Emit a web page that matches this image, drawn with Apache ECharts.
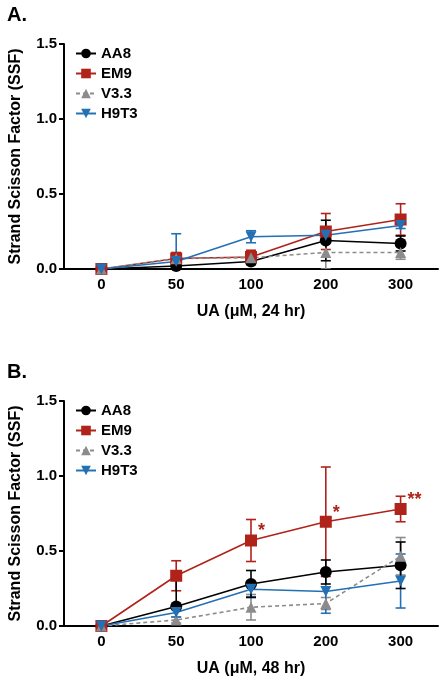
<!DOCTYPE html>
<html><head><meta charset="utf-8">
<script src="https://cdn.jsdelivr.net/npm/echarts@6/dist/echarts.min.js"></script>
<style>html,body{margin:0;padding:0;background:#fff}#c{width:443px;height:681px}</style>
</head><body><div id="c"></div>
<script>
var categories = ['0', '50', '100', '200', '300'];
var seriesNames = ['AA8', 'EM9', 'V3.3', 'H9T3'];
var yTicks = [0, 0.5, 1.0, 1.5];

// Panel A (24 hr)
var aa8A = [0, 0.02, 0.05, 0.19, 0.17];
var aa8AErr = [0, 0.06, 0.02, 0.135, 0.05];
var em9A = [0, 0.07, 0.08, 0.25, 0.33];
var em9AErr = [0, 0.04, 0.045, 0.12, 0.105];
var v33A = [0, 0.07, 0.075, 0.11, 0.11];
var v33AErr = [0, 0.03, 0.03, 0.11, 0.045];
var h9t3A = [0, 0.05, 0.215, 0.225, 0.29];
var h9t3AErr = [0, 0.185, 0.04, 0.02, 0.02];

// Panel B (48 hr)
var aa8B = [0, 0.13, 0.28, 0.36, 0.405];
var aa8BErr = [0, 0.2, 0.09, 0.08, 0.155];
var em9B = [0, 0.335, 0.57, 0.695, 0.78];
var em9BErr = [0, 0.1, 0.14, 0.365, 0.085];
var v33B = [0, 0.04, 0.125, 0.15, 0.465];
var v33BErr = [0, 0.02, 0.085, 0.04, 0.125];
var h9t3B = [0, 0.09, 0.245, 0.23, 0.3];
var h9t3BErr = [0, 0.03, 0.05, 0.145, 0.18];
var starsB = ['', '', '*', '*', '**'];

var colors = {'AA8': '#000000', 'EM9': '#b0231a', 'V3.3': '#8c8c8c', 'H9T3': '#2470b5'};
var symbols = {'AA8': 'circle', 'EM9': 'rect', 'V3.3': 'triangle', 'H9T3': 'triangle'};
var rotates = {'AA8': 0, 'EM9': 0, 'V3.3': 0, 'H9T3': 180};
var sizes = {'AA8': 12, 'EM9': 12, 'V3.3': 11, 'H9T3': 11};

var FONT = 'Liberation Sans, Arial, sans-serif';

function errSeries(name, vals, errs, gi) {
  var data = vals.map(function (v, i) { return [i, v - errs[i], v + errs[i]]; });
  return {
    type: 'custom', name: name + ' err', xAxisIndex: gi, yAxisIndex: gi, clip: true, z: 3,
    data: data, silent: true,
    renderItem: function (params, api) {
      var lo = api.coord([api.value(0), api.value(1)]);
      var hi = api.coord([api.value(0), api.value(2)]);
      var w = 5;
      var st = {stroke: colors[name], lineWidth: 1.6};
      return {type: 'group', children: [
        {type: 'line', shape: {x1: lo[0], y1: lo[1], x2: hi[0], y2: hi[1]}, style: st},
        {type: 'line', shape: {x1: hi[0] - w, y1: hi[1], x2: hi[0] + w, y2: hi[1]}, style: st},
        {type: 'line', shape: {x1: lo[0] - w, y1: lo[1], x2: lo[0] + w, y2: lo[1]}, style: st}
      ]};
    }
  };
}

function lineSeries(name, vals, gi, extra) {
  var s = {
    type: 'line', name: name, xAxisIndex: gi, yAxisIndex: gi, data: vals,
    symbol: symbols[name], symbolSize: sizes[name], symbolRotate: rotates[name],
    showAllSymbol: true, z: 4,
    itemStyle: {color: colors[name]},
    lineStyle: {color: colors[name], width: 1.6, type: name === 'V3.3' ? [4, 3] : 'solid'}
  };
  if (extra) for (var k in extra) s[k] = extra[k];
  return s;
}

function xAxisDef(gi, name) {
  return {
    type: 'category', gridIndex: gi, data: categories, boundaryGap: true,
    axisLine: {lineStyle: {color: '#000', width: 2}},
    axisTick: {show: false},
    axisLabel: {color: '#000', fontFamily: FONT, fontWeight: 'bold', fontSize: 15, margin: 8},
    name: name, nameLocation: 'middle', nameGap: 35,
    nameTextStyle: {color: '#000', fontFamily: FONT, fontWeight: 'bold', fontSize: 16}
  };
}
function yAxisDef(gi) {
  return {
    type: 'value', gridIndex: gi, min: yTicks[0], max: yTicks[yTicks.length - 1], interval: 0.5,
    axisLine: {show: true, lineStyle: {color: '#000', width: 2}},
    axisTick: {show: true, length: 5, lineStyle: {color: '#000', width: 2}},
    splitLine: {show: false},
    axisLabel: {color: '#000', fontFamily: FONT, fontWeight: 'bold', fontSize: 15, margin: 7,
      formatter: function (v) { return v.toFixed(1); }},
    name: 'Strand Scisson Factor (SSF)', nameLocation: 'middle', nameGap: 40,
    nameTextStyle: {color: '#000', fontFamily: FONT, fontWeight: 'bold', fontSize: 16}
  };
}
function legendDef(top) {
  return {
    orient: 'vertical', left: 75, top: top, padding: 0, itemWidth: 20, itemHeight: 12, itemGap: 5,
    data: seriesNames.map(function (n) { return {name: n}; }),
    textStyle: {color: '#000', fontFamily: FONT, fontWeight: 'bold', fontSize: 15},
    selectedMode: false
  };
}

var starLabel = {
  show: true, position: 'right', distance: 1, offset: [0, -9],
  formatter: function (p) { return starsB[p.dataIndex]; },
  color: colors['EM9'], fontFamily: FONT, fontWeight: 'bold', fontSize: 18
};

var option = {
  animation: false,
  title: [
    {text: 'A.', left: 7, top: 5, padding: 0, textStyle: {fontFamily: FONT, fontWeight: 'bold', fontSize: 20, color: '#000'}},
    {text: 'B.', left: 7, top: 362, padding: 0, textStyle: {fontFamily: FONT, fontWeight: 'bold', fontSize: 20, color: '#000'}}
  ],
  legend: [legendDef(46), legendDef(403)],
  grid: [
    {left: 60, top: 44, width: 378, height: 225},
    {left: 60, top: 401, width: 378, height: 225}
  ],
  xAxis: [xAxisDef(0, 'UA (\u03BCM, 24 hr)'), xAxisDef(1, 'UA (\u03BCM, 48 hr)')],
  yAxis: [yAxisDef(0), yAxisDef(1)],
  series: [
    errSeries('V3.3', v33A, v33AErr, 0),
    errSeries('H9T3', h9t3A, h9t3AErr, 0),
    errSeries('EM9', em9A, em9AErr, 0),
    errSeries('AA8', aa8A, aa8AErr, 0),
    lineSeries('AA8', aa8A, 0),
    lineSeries('EM9', em9A, 0),
    lineSeries('V3.3', v33A, 0),
    lineSeries('H9T3', h9t3A, 0),
    errSeries('V3.3', v33B, v33BErr, 1),
    errSeries('H9T3', h9t3B, h9t3BErr, 1),
    errSeries('EM9', em9B, em9BErr, 1),
    errSeries('AA8', aa8B, aa8BErr, 1),
    lineSeries('AA8', aa8B, 1),
    lineSeries('EM9', em9B, 1, {label: starLabel}),
    lineSeries('V3.3', v33B, 1),
    lineSeries('H9T3', h9t3B, 1)
  ]
};
var chart = echarts.init(document.getElementById('c'), null, {renderer: 'canvas'});
chart.setOption(option);
</script></body></html>
